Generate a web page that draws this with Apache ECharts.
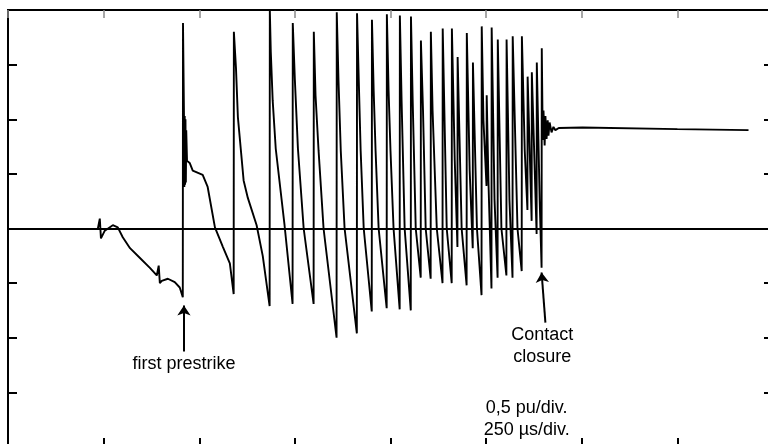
<!DOCTYPE html>
<html>
<head>
<meta charset="utf-8">
<script src="https://cdn.jsdelivr.net/npm/echarts@6/dist/echarts.min.js"></script>
<style>
  html, body { margin: 0; padding: 0; background: #fff; }
  #chart { width: 768px; height: 444px; }
</style>
</head>
<body>
<div id="chart"></div>
<script>
// ---- Axis ranges (0,5 pu/div, 250 µs/div) ----
const timeRangeUs = [0, 2000];
const timeStepUs = 250;
const voltRangePu = [-2, 2];
const voltStepPu = 0.5;

// ---- Waveform (time in µs, voltage in pu) ----
const timeUs = [
  235, 240, 243, 253, 274, 287, 300, 319, 345, 371, 389, 394, 397, 402, 418, 436, 449, 457,
  457.5, 460, 461, 462, 463, 464, 465, 466, 468, 475, 483, 509, 522, 541, 562, 580, 590,
  590.5, 596, 601, 609, 616, 627, 650, 666, 684,
  684.5, 687, 692, 700, 723, 744,
  744.5, 750, 758, 773, 799,
  799.5, 804, 812, 825, 859,
  859.5, 864, 870, 880, 912,
  912.5, 917, 922, 930, 951,
  951.5, 956, 961, 969, 990,
  990.5, 995, 1000, 1008, 1024,
  1024.5, 1029, 1037, 1053,
  1053.5, 1058, 1066, 1079,
  1079.5, 1085, 1092, 1105,
  1105.5, 1110, 1121, 1136,
  1136.5, 1147, 1160,
  1160.5, 1168, 1175,
  1175.5, 1186, 1199,
  1199.5, 1207, 1215,
  1215.5, 1226, 1238,
  1238.5, 1243, 1251,
  1251.5, 1256, 1264,
  1264.5, 1272, 1280,
  1280.5, 1290, 1303,
  1303.5, 1311, 1319,
  1319.5, 1332, 1343,
  1343.5, 1351, 1358,
  1358.5, 1369,
  1369.5, 1382,
  1382.5, 1390, 1395,
  1395.5, 1398, 1400, 1403, 1405, 1408, 1411, 1413, 1416, 1421, 1426, 1431, 1440, 1502, 1750, 1936
];
const voltagePu = [
  0, 0.09, -0.09, -0.02, 0.03, 0.01, -0.08, -0.18, -0.27, -0.36, -0.43, -0.34, -0.50, -0.48, -0.46, -0.49, -0.54, -0.63,
  1.88, 1.06, 0.38, 1.03, 0.40, 1.00, 0.42, 0.90, 0.62, 0.60, 0.53, 0.49, 0.38, 0.01, -0.17, -0.32, -0.60,
  1.80, 1.47, 1.02, 0.71, 0.44, 0.28, 0.03, -0.25, -0.71,
  2.00, 1.62, 1.17, 0.73, 0.03, -0.69,
  1.88, 1.36, 0.73, 0, -0.69,
  1.80, 1.22, 0.71, 0, -1.00,
  1.98, 1.36, 0.71, 0, -0.96,
  1.97, 1.36, 0.71, 0, -0.76,
  1.91, 1.26, 0.71, 0, -0.73,
  1.96, 1.26, 0.71, 0, -0.74,
  1.95, 1.17, 0, -0.75,
  1.94, 1.17, 0, -0.45,
  1.72, 1.08, 0, -0.46,
  1.80, 1.08, 0, -0.50,
  1.83, 0, -0.50,
  1.83, 0.62, -0.17,
  1.57, 0, -0.52,
  1.79, 0.53, -0.18,
  1.52, 0, -0.61,
  1.85, 0.99, 0.39,
  1.22, 0.44, -0.55,
  1.84, 0.26, -0.45,
  1.73, 0, -0.43,
  1.73, 0.26, -0.45,
  1.76, 0, -0.39,
  1.76, 0.71, 0.17,
  1.39, 0.07,
  1.43, -0.05,
  1.52, 0.26, -0.36,
  1.65, 0.81, 1.08, 0.76, 1.03, 0.82, 0.99, 0.85, 0.97, 0.88, 0.93, 0.90, 0.92, 0.925, 0.91, 0.90
];

// ---- Annotations (anchored in data units) ----
const noteTexts = ['first prestrike', 'Contact\nclosure', '0,5 pu/div.\n250 µs/div.'];
const noteAnchors = [[460, -1.236], [1397, -1.08], [1356, -1.745]];
const arrowFrom = [[460, -1.126], [1405, -0.861]];
const arrowTo = [[460, -0.705], [1395, -0.403]];

const wave = timeUs.map((t, i) => [t, voltagePu[i]]);

const chart = echarts.init(document.getElementById('chart'), null, { renderer: 'canvas' });

function xAx(pos, color, width, len) {
  return {
    type: 'value', position: pos, min: timeRangeUs[0], max: timeRangeUs[1], interval: timeStepUs,
    axisLine: { show: false, onZero: false },
    axisTick: { show: true, inside: true, length: len, lineStyle: { color: color, width: width } },
    axisLabel: { show: false }, splitLine: { show: false }
  };
}
function yAx(pos, color, width, len) {
  return {
    type: 'value', position: pos, min: voltRangePu[0], max: voltRangePu[1], interval: voltStepPu,
    axisLine: { show: false, onZero: false },
    axisTick: { show: true, inside: true, length: len, lineStyle: { color: color, width: width } },
    axisLabel: { show: false }, splitLine: { show: false }
  };
}

const option = {
  animation: false,
  backgroundColor: '#ffffff',
  grid: {
    left: 8, top: 10, width: 765, height: 437, show: true,
    borderColor: '#000', borderWidth: 2, backgroundColor: 'transparent',
    containLabel: false, outerBoundsMode: 'none'
  },
  xAxis: [xAx('bottom', '#000', 2, 9), xAx('top', '#8a8a8a', 1.5, 8)],
  yAxis: [yAx('left', '#000', 2, 9), yAx('right', '#000', 2, 9)],
  series: [
    {
      type: 'line', xAxisIndex: 0, yAxisIndex: 0,
      data: wave, showSymbol: false, symbol: 'none', smooth: false,
      lineStyle: { color: '#000', width: 1.9 },
      markLine: {
        silent: true, symbol: 'none', label: { show: false },
        lineStyle: { color: '#000', width: 2, type: 'solid' },
        emphasis: { disabled: true },
        data: [{ yAxis: 0 }]
      }
    },
    {
      type: 'line', xAxisIndex: 0, yAxisIndex: 0, data: [], silent: true,
      markLine: {
        silent: true, symbol: ['none', 'arrow'], symbolSize: 10, label: { show: false },
        lineStyle: { color: '#000', width: 2, type: 'solid' },
        emphasis: { disabled: true },
        data: arrowFrom.map((f, i) => [{ coord: f }, { coord: arrowTo[i] }])
      },
      markPoint: {
        silent: true, symbol: 'circle', symbolSize: 1,
        itemStyle: { color: 'rgba(0,0,0,0)' },
        label: {
          show: true, position: 'inside', color: '#000', fontSize: 18,
          fontFamily: 'Liberation Sans, Arial, sans-serif', lineHeight: 22, align: 'center'
        },
        data: noteTexts.map((txt, i) => ({ coord: noteAnchors[i], value: 0, label: { formatter: txt } }))
      }
    }
  ]
};
chart.setOption(option);
</script>
</body>
</html>
